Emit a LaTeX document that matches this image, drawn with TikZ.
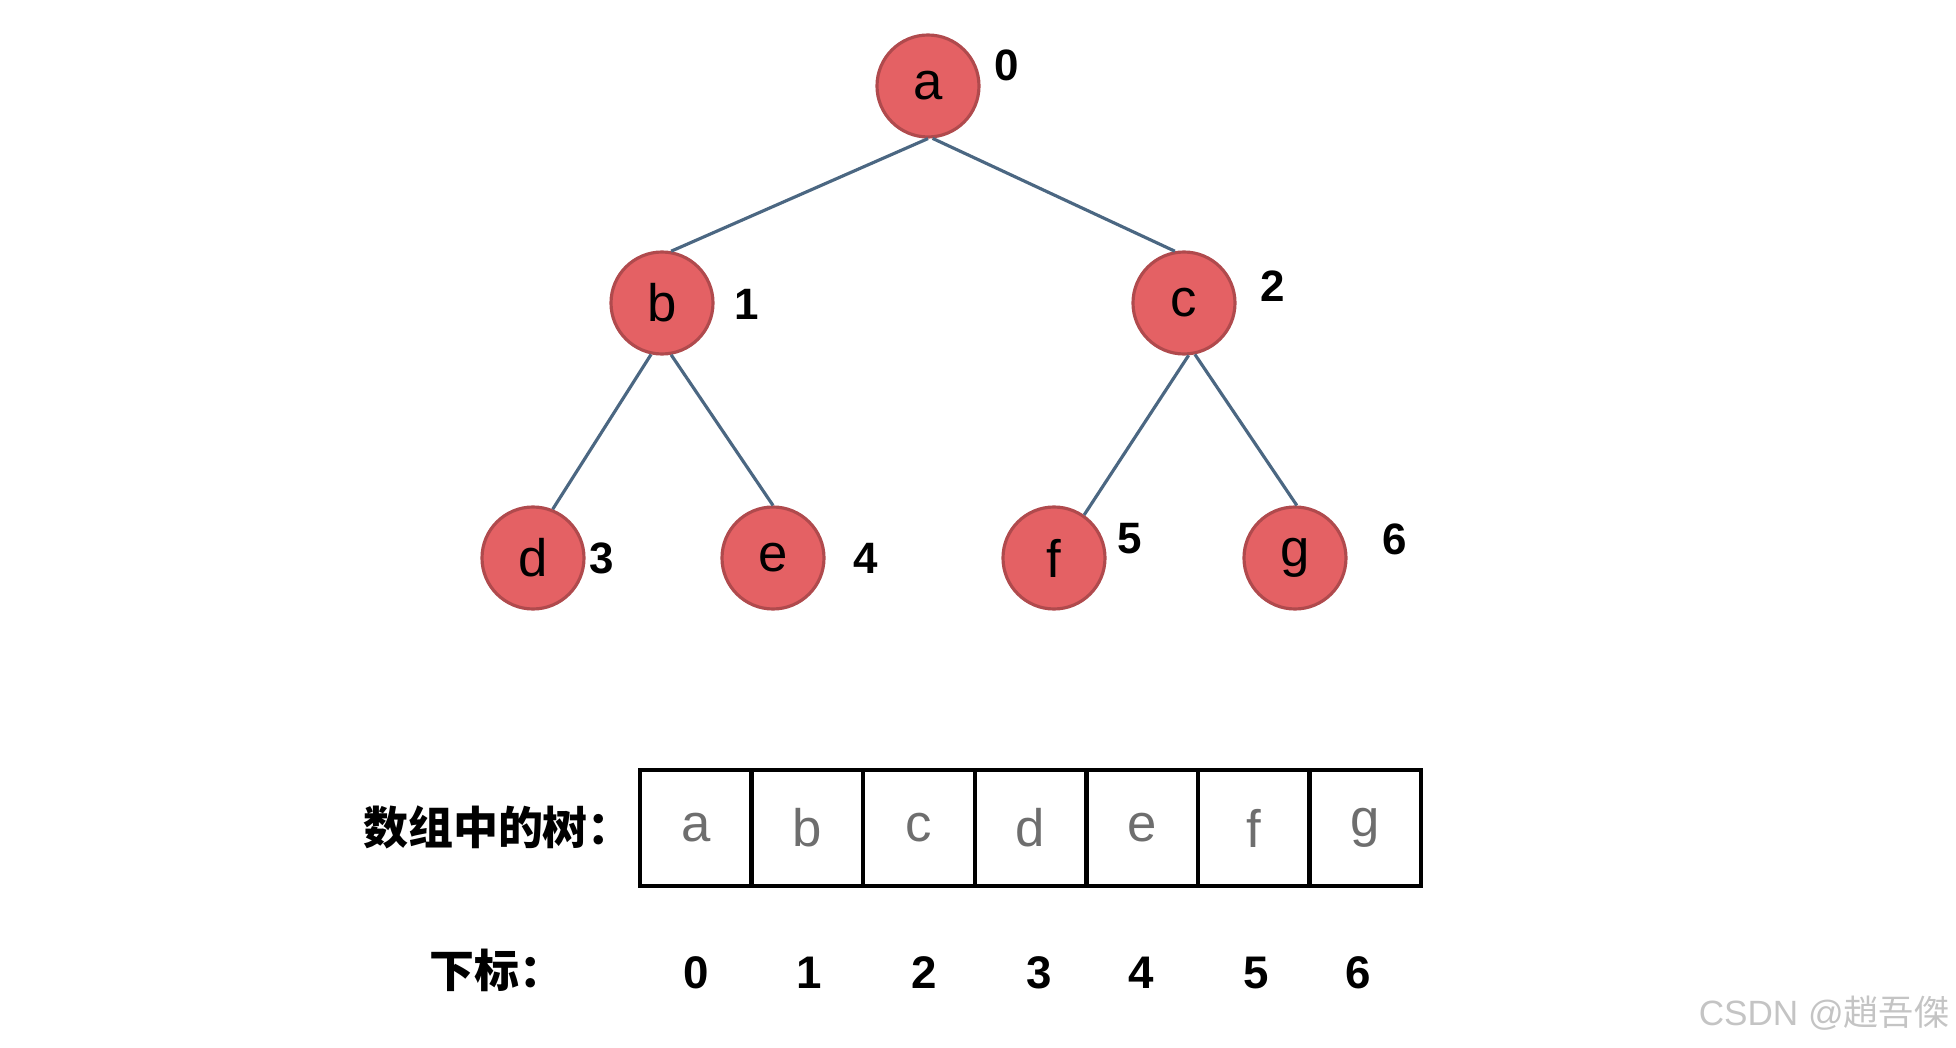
\documentclass[tikz,border=0pt]{standalone}
\usepackage{fontspec}
\setmainfont{Liberation Sans}
\newfontfamily\cjk{Noto Sans CJK SC}
\definecolor{nodefill}{HTML}{E46164}
\definecolor{nodeedge}{HTML}{B04A4D}
\definecolor{edgeblue}{HTML}{4B6782}
\definecolor{cellgray}{HTML}{6E6E6E}
\definecolor{markgray}{HTML}{C4C4C4}

\begin{document}
\begin{tikzpicture}[
    treenode/.style={circle, draw=nodeedge, fill=nodefill, line width=0.9pt, minimum size=1.02cm, font=\fontsize{15}{18}\selectfont},
    idxlabel/.style={font=\fontsize{12.5}{14}\selectfont\bfseries},
    treeedge/.style={draw=edgeblue, line width=0.9pt},
    arrcell/.style={draw=black, line width=1.2pt, minimum width=1.116cm, minimum height=1.16cm, text=cellgray, font=\fontsize{15}{18}\selectfont},
    arridx/.style={font=\fontsize{13}{15}\selectfont\bfseries},
    cnlabel/.style={font=\fontsize{12.8}{15}\selectfont\cjk\bfseries}
  ]
            \tikzstyle{every node}+=[inner sep=0pt]
            \useasboundingbox (0,0) rectangle (19.56,-10.48);
            % tree
            \node [treenode] (a) at (9.28,-0.86) {a};
            \node [treenode] (b) at (6.62,-3.03) {b};
            \node [treenode] (c) at (11.84,-3.03) {c};
            \node [treenode] (d) at (5.33,-5.58) {d};
            \node [treenode] (e) at (7.73,-5.58) {e};
            \node [treenode] (f) at (10.54,-5.58) {f};
            \node [treenode] (g) at (12.95,-5.58) {g};
            \node [idxlabel] (na) at (10.07,-0.65) {0};
            \node [idxlabel] (nb) at (7.47,-3.04) {1};
            \node [idxlabel] (nc) at (12.73,-2.86) {2};
            \node [idxlabel] (nd) at (6.02,-5.58) {3};
            \node [idxlabel] (ne) at (8.66,-5.58) {4};
            \node [idxlabel] (nf) at (11.30,-5.39) {5};
            \node [idxlabel] (ng) at (13.95,-5.39) {6};
            \draw [treeedge] (a.south) -- (b.80);
            \draw [treeedge] (a.-85) -- (c.100);
            \draw [treeedge] (b.258) -- (d.68);
            \draw [treeedge] (b.-80) -- (e.90);
            \draw [treeedge] (c.-85) -- (f.55);
            \draw [treeedge] (c.-78) -- (g.88);
            % array
            \node [cnlabel] (arrname) at (4.98,-8.27) {数组中的树：};
            \node [arrcell] (arr0) at (6.958,-8.28) {a};
            \node [arrcell] (arr1) at (8.074,-8.28) {b};
            \node [arrcell] (arr2) at (9.190,-8.28) {c};
            \node [arrcell] (arr3) at (10.306,-8.28) {d};
            \node [arrcell] (arr4) at (11.422,-8.28) {e};
            \node [arrcell] (arr5) at (12.538,-8.28) {f};
            \node [arrcell] (arr6) at (13.654,-8.28) {g};
            \node [cnlabel] (idxname) at (4.97,-9.70) {下标：};
            \node [arridx] (idx0) at (6.96,-9.73) {0};
            \node [arridx] (idx1) at (8.09,-9.73) {1};
            \node [arridx] (idx2) at (9.24,-9.73) {2};
            \node [arridx] (idx3) at (10.39,-9.73) {3};
            \node [arridx] (idx4) at (11.41,-9.73) {4};
            \node [arridx] (idx5) at (12.56,-9.73) {5};
            \node [arridx] (idx6) at (13.58,-9.73) {6};
            % watermark
            \node [text=markgray, font=\fontsize{10}{12}\selectfont] (mark) at (18.24,-10.13) {CSDN @{\cjk 趙吾傑}};
\end{tikzpicture}
\end{document}
